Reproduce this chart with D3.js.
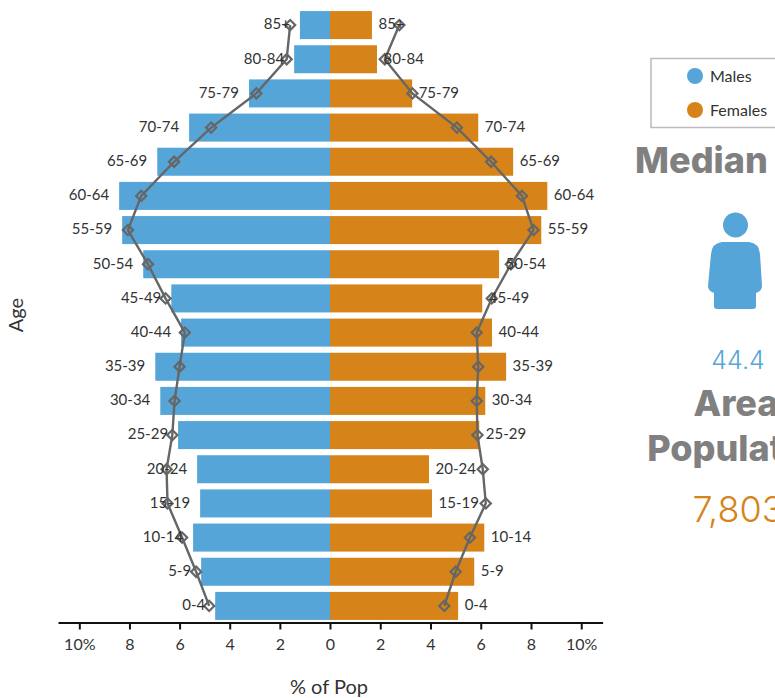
<!DOCTYPE html>
<html>
<head>
<meta charset="utf-8">
<script src="https://cdn.jsdelivr.net/npm/d3@7"></script>
<style>
  html, body { margin: 0; padding: 0; background: #fff; overflow: hidden; }
  text { font-family: Lato, "Open Sans", sans-serif; }
</style>
</head>
<body>
<div id="container"></div>
<script>
let w = 775;
let h = 698;

// top to bottom, same order as the picture
let ages = ["85+", "80-84", "75-79", "70-74", "65-69", "60-64", "55-59", "50-54", "45-49",
  "40-44", "35-39", "30-34", "25-29", "20-24", "15-19", "10-14", "5-9", "0-4"];

let malesArea = [1.2, 1.43, 3.23, 5.62, 6.89, 8.41, 8.29, 7.45, 6.33, 5.94, 6.97, 6.77, 6.06, 5.3, 5.18, 5.46, 5.14, 4.58];
let femalesArea = [1.67, 1.87, 3.27, 5.9, 7.29, 8.65, 8.41, 6.73, 6.06, 6.45, 7.01, 6.18, 5.94, 3.94, 4.06, 6.14, 5.74, 5.1];

// the comparison line
let malesLine = [1.59, 1.73, 2.94, 4.74, 6.22, 7.53, 8.06, 7.26, 6.56, 5.79, 6.0, 6.2, 6.29, 6.52, 6.48, 5.9, 5.34, 4.82];
let femalesLine = [2.76, 2.18, 3.28, 5.05, 6.41, 7.64, 8.1, 7.2, 6.44, 5.84, 5.9, 5.84, 5.87, 6.08, 6.2, 5.57, 5.0, 4.55];

let xTicksLeft = [0, 2, 4, 6, 8, 10];
let xTicksRight = [2, 4, 6, 8, 10]; // 0 is already drawn by the left axis
let legendNames = ["Males", "Females"];

let maleColor = "#55a5d9";
let femaleColor = "#d6841a";
let lineColor = "#666666";
let textColor = "#333333";

let viz = d3.select("#container")
  .append("svg")
    .attr("width", w)
    .attr("height", h)
    .style("display", "block")
;

let maxX = 10.85;
let maleX = d3.scaleLinear().domain([0, maxX]).range([330, 58]);
let femaleX = d3.scaleLinear().domain([0, maxX]).range([330, 602.6]);
let y = d3.scaleBand().domain(ages).range([8, 623]).paddingInner(0.18).paddingOuter(0.09);

function drawSide(values, lineValues, x, color, labelGap, anchor){
  let g = viz.append("g");

  g.selectAll("rect").data(values).enter()
    .append("rect")
      .attr("x", function(d){ return Math.min(x(0), x(d)) })
      .attr("y", function(d, i){ return y(ages[i]) })
      .attr("width", function(d){ return Math.abs(x(d) - x(0)) })
      .attr("height", y.bandwidth())
      .attr("fill", color)
  ;

  let line = d3.line()
    .x(function(d){ return x(d) })
    .y(function(d, i){ return y(ages[i]) + y.bandwidth() / 2 })
  ;
  g.append("path")
    .attr("d", line(lineValues))
    .attr("fill", "none")
    .attr("stroke", lineColor)
    .attr("stroke-width", 2.4)
  ;

  let diamond = d3.symbol().type(d3.symbolSquare).size(52);
  g.selectAll(".marker").data(lineValues).enter()
    .append("path")
      .attr("class", "marker")
      .attr("d", diamond())
      .attr("transform", function(d, i){
        return "translate(" + x(d) + "," + (y(ages[i]) + y.bandwidth() / 2) + ") rotate(45)"
      })
      .attr("fill", "none")
      .attr("stroke", lineColor)
      .attr("stroke-width", 2.2)
  ;

  g.selectAll(".barLabel").data(values).enter()
    .append("text")
      .attr("class", "barLabel")
      .attr("x", function(d){ return x(d) + labelGap })
      .attr("y", function(d, i){ return y(ages[i]) + y.bandwidth() / 2 - 1 })
      .attr("dy", "0.35em")
      .attr("text-anchor", anchor)
      .attr("font-size", 15)
      .attr("fill", textColor)
      .text(function(d, i){ return ages[i] })
  ;
}

drawSide(malesArea, malesLine, maleX, maleColor, -10, "end");
drawSide(femalesArea, femalesLine, femaleX, femaleColor, 6.5, "start");

// X AXES
function drawAxis(x, tickList){
  let axis = d3.axisBottom(x)
    .tickValues(tickList)
    .tickSize(7)
    .tickSizeOuter(0)
    .tickPadding(9)
    .tickFormat(function(d){ return d == 10 ? "10%" : d })
  ;
  let g = viz.append("g").attr("transform", "translate(0,622.5)").call(axis);
  g.select(".domain").attr("stroke", "#111").attr("stroke-width", 2);
  g.selectAll(".tick line").attr("stroke", "#111").attr("stroke-width", 2);
  g.selectAll(".tick text")
    .attr("font-family", "Lato")
    .attr("font-size", 16)
    .attr("fill", textColor)
  ;
}
drawAxis(maleX, xTicksLeft);
drawAxis(femaleX, xTicksRight);

viz.append("text")
  .attr("x", 329)
  .attr("y", 694)
  .attr("text-anchor", "middle")
  .attr("font-size", 20)
  .attr("fill", textColor)
  .text("% of Pop")
;

viz.append("text")
  .attr("transform", "translate(23,315) rotate(-90)")
  .attr("text-anchor", "middle")
  .attr("font-size", 20)
  .attr("fill", textColor)
  .text("Age")
;

// LEGEND, the box runs off the right edge
viz.append("rect")
  .attr("x", 651)
  .attr("y", 58.5)
  .attr("width", 160)
  .attr("height", 69)
  .attr("fill", "none")
  .attr("stroke", "#bbbbbb")
  .attr("stroke-width", 1.5)
;

let legendItems = viz.selectAll(".legendItem").data(legendNames).enter()
  .append("g")
    .attr("class", "legendItem")
    .attr("transform", function(d, i){ return "translate(695," + (76 + i * 34) + ")" })
;
legendItems.append("circle")
  .attr("r", 8)
  .attr("fill", function(d, i){ return i == 0 ? maleColor : femaleColor })
;
legendItems.append("text")
  .attr("x", 15)
  .attr("dy", "0.35em")
  .attr("font-size", 16)
  .attr("fill", textColor)
  .text(function(d){ return d })
;

// SIDE PANEL
function panelText(txt, x, yPos, size, weight, color, font){
  viz.append("text")
    .attr("x", x)
    .attr("y", yPos)
    .attr("text-anchor", "middle")
    .attr("font-size", size)
    .attr("font-weight", weight)
    .attr("fill", color)
    .style("font-family", font)
    .text(txt)
  ;
}
panelText("Median Age", 741, 173, 36, 800, "#808080", "Inter");
panelText("44.4", 738, 369, 25, 300, maleColor, "Inter");
panelText("Area", 736, 416, 36, 800, "#808080", "Inter");
panelText("Population", 743, 461, 36, 800, "#808080", "Inter");
panelText("7,803", 738, 522, 36, 300, femaleColor, "Inter");

// person icon
viz.append("circle")
  .attr("cx", 735.5)
  .attr("cy", 225)
  .attr("r", 12.5)
  .attr("fill", maleColor)
;
viz.append("path")
  .attr("d", "M722,242 L749,242 Q759,243 760,254 L762,286 Q762,291 756,293 L756,306 Q756,309 753,309 L717,309 Q714,309 714,306 L714,293 Q708,291 708,286 L711,254 Q712,243 722,242 Z")
  .attr("fill", maleColor)
;
</script>
</body>
</html>
